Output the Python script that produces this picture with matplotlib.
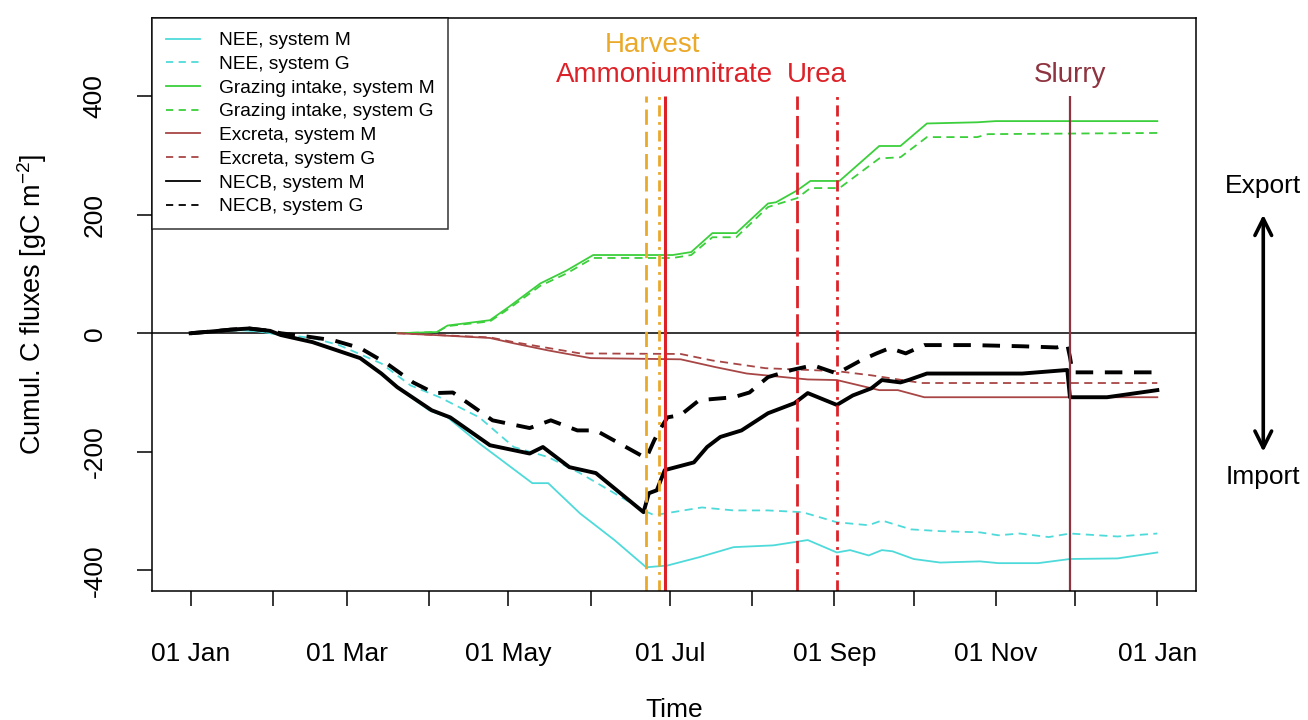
import numpy as np
import matplotlib
matplotlib.use('Agg')
import matplotlib.pyplot as plt
import matplotlib.dates as mdates
from matplotlib.lines import Line2D

plt.rcParams['font.family'] = ['Liberation Sans', 'DejaVu Sans']
plt.rcParams['axes.unicode_minus'] = False

year_start = np.datetime64('2013-01-01')

# days since 01 Jan, cumulative C fluxes [gC m-2]
nee_m_day = [0, 8, 19, 26, 34, 46, 64, 72, 78, 90, 97, 109, 129, 135, 147, 160, 172, 180,
             192, 205, 220, 233, 244, 249, 256, 261, 265, 273, 283, 298, 305, 320, 332, 350, 365]
nee_m = [0, 3, 5, 3, -3, -15, -42, -68, -91, -130, -142, -186, -253, -253, -304, -349, -395, -392,
         -378, -361, -358, -349, -370, -366, -375, -366, -368, -381, -387, -385, -388, -388, -381, -380, -370]

nee_g_day = [0, 8, 19, 26, 34, 46, 56, 72, 83, 94, 109, 122, 135, 147, 160, 171, 175, 182, 193,
             205, 218, 231, 244, 256, 261, 272, 283, 298, 305, 313, 324, 332, 350, 365]
nee_g = [0, 3, 7, 3, -2, -8, -20, -51, -88, -108, -142, -192, -209, -236, -270, -299, -307, -302, -294,
         -299, -299, -302, -319, -324, -316, -331, -334, -336, -341, -338, -344, -338, -343, -338]

graz_m_day = [78, 93, 97, 113, 120, 132, 142, 152, 182, 189, 197, 206, 218, 221, 229, 234, 245,
              260, 268, 278, 297, 304, 365]
graz_m = [0, 2, 13, 22, 44, 84, 106, 132, 132, 137, 169, 169, 219, 221, 241, 257, 257,
          316, 316, 354, 356, 358, 358]

graz_g_day = [78, 93, 97, 113, 120, 132, 142, 152, 182, 189, 197, 206, 218, 229, 234, 245,
              260, 268, 278, 297, 301, 365]
graz_g = [0, 2, 12, 20, 41, 80, 101, 127, 127, 132, 162, 162, 213, 228, 245, 245,
          295, 297, 331, 331, 336, 338]

exc_m_day = [78, 92, 113, 122, 135, 151, 185, 198, 210, 233, 244, 260, 267, 277, 365]
exc_m = [0, -3, -8, -17, -29, -42, -44, -57, -68, -78, -79, -96, -96, -108, -108]

exc_g_day = [78, 113, 122, 147, 185, 197, 217, 244, 257, 276, 365]
exc_g = [0, -7, -15, -34, -35, -46, -59, -64, -71, -84, -84]

necb_m_day = [0, 8, 15, 22, 30, 34, 46, 64, 72, 78, 91, 98, 113, 128, 133, 143, 153, 171, 173, 176,
              179, 190, 195, 200, 208, 218, 228, 233, 244, 250, 257, 261, 268, 271, 278, 298, 314,
              331, 332, 346, 365]
necb_m = [0, 3, 6, 8, 4, -3, -15, -42, -68, -91, -130, -142, -189, -203, -192, -226, -236, -302, -270, -265,
          -231, -218, -192, -175, -164, -135, -118, -101, -121, -105, -93, -79, -83, -79, -68, -68, -68,
          -62, -108, -108, -96]

necb_g_day = [0, 8, 15, 22, 30, 34, 43, 54, 64, 74, 84, 92, 99, 107, 114, 128, 136, 146, 153, 170, 172,
              175, 177, 180, 185, 192, 205, 211, 218, 227, 235, 244, 253, 259, 264, 270, 277, 295, 314,
              327, 331, 332, 333, 346, 365]
necb_g = [0, 3, 6, 8, 4, 0, -5, -12, -25, -51, -83, -101, -100, -125, -147, -160, -147, -164, -164, -206, -211,
          -181, -164, -142, -138, -113, -108, -100, -74, -62, -54, -68, -46, -34, -25, -34, -20, -20, -22,
          -24, -19, -40, -66, -66, -66]

# management events (day of year)
harvest_days = [172, 177]
an_day = 179
urea_days = [229, 244]
slurry_day = 332

c_nee = '#4fdada'
c_graz = '#3ccf3c'
c_exc = '#a84646'
c_necb = 'black'
c_harv = '#eba92a'
c_red = '#dc2228'
c_slurry = '#8e3440'


def to_x(days):
    return mdates.date2num(year_start) + np.asarray(days, dtype=float)


fig = plt.figure(figsize=(13.08, 7.2), dpi=100)
ax = fig.add_axes([152 / 1308, 1 - 591 / 720, (1196 - 152) / 1308, (591 - 18) / 720])

ax.axhline(0, color='black', lw=1.1, zorder=1)

thin = dict(lw=1.3)
ax.plot(to_x(nee_m_day), nee_m, color=c_nee, **thin)
ax.plot(to_x(nee_g_day), nee_g, color=c_nee, dashes=(4.5, 3), **thin)
ax.plot(to_x(graz_m_day), graz_m, color=c_graz, **thin)
ax.plot(to_x(graz_g_day), graz_g, color=c_graz, dashes=(4.5, 3), **thin)
ax.plot(to_x(exc_m_day), exc_m, color=c_exc, **thin)
ax.plot(to_x(exc_g_day), exc_g, color=c_exc, dashes=(4.5, 3), **thin)
ax.plot(to_x(necb_m_day), necb_m, color=c_necb, lw=2.8)
ax.plot(to_x(necb_g_day), necb_g, color=c_necb, lw=2.8, dashes=(4.5, 3))

# event lines
y_lo, y_hi = -435, 400
ax.vlines(to_x(harvest_days[0]), y_lo, y_hi, color=c_harv, lw=2, linestyles=[(0, (5.5, 2.5))])
ax.vlines(to_x(harvest_days[1]), y_lo, y_hi, color=c_harv, lw=2, linestyles=[(0, (4, 2, 1, 2))])
ax.vlines(to_x(an_day), y_lo, y_hi, color=c_red, lw=2.2)
ax.vlines(to_x(urea_days[0]), y_lo, y_hi, color=c_red, lw=2, linestyles=[(0, (8, 2.2))])
ax.vlines(to_x(urea_days[1]), y_lo, y_hi, color=c_red, lw=2, linestyles=[(0, (4, 2, 1, 2))])
ax.vlines(to_x(slurry_day), y_lo, y_hi, color=c_slurry, lw=1.6)

ax.text(to_x(np.mean(harvest_days)), 486, 'Harvest', color=c_harv, fontsize=20, ha='center', va='center')
ax.text(to_x(an_day), 435, 'Ammoniumnitrate', color=c_red, fontsize=20, ha='center', va='center')
ax.text(to_x(np.mean(urea_days)), 435, 'Urea', color=c_red, fontsize=20, ha='center', va='center')
ax.text(to_x(slurry_day), 435, 'Slurry', color=c_slurry, fontsize=20, ha='center', va='center')

# export / import arrow in the right margin
xa = to_x(405)
ax.annotate('', xy=(xa, 200), xytext=(xa, -200), annotation_clip=False,
            arrowprops=dict(arrowstyle='<->', lw=2.6, color='black', mutation_scale=30,
                            shrinkA=0, shrinkB=0))
ax.text(xa, 248, 'Export', fontsize=19, ha='center', va='center', clip_on=False)
ax.text(xa, -243, 'Import', fontsize=19, ha='center', va='center', clip_on=False)

ax.set_xlim(to_x(-14.6), to_x(379.6))
ax.set_ylim(-435, 532)
ax.xaxis.set_major_locator(mdates.MonthLocator(bymonth=[1, 3, 5, 7, 9, 11]))
ax.xaxis.set_minor_locator(mdates.MonthLocator())
ax.xaxis.set_major_formatter(mdates.DateFormatter('%d %b'))
ax.set_yticks([-400, -200, 0, 200, 400])
ax.tick_params(axis='both', which='both', direction='out', length=10.5, width=1.1, labelsize=19)
ax.tick_params(axis='x', which='both', pad=26.5)
ax.tick_params(axis='y', pad=22, labelrotation=90)
for lab in ax.get_yticklabels():
    lab.set_va('center')
for sp in ax.spines.values():
    sp.set_linewidth(1.1)

ax.set_xlabel('Time', fontsize=19)
ax.xaxis.set_label_coords(0.5, -0.187)
ax.set_ylabel('Cumul. C fluxes [gC m$^{\\mathregular{-2}}$]', fontsize=19.5)
ax.yaxis.set_label_coords(-0.099, 0.5)

handles = [
    Line2D([], [], color=c_nee, lw=1.3),
    Line2D([], [], color=c_nee, lw=1.3, dashes=(4, 3)),
    Line2D([], [], color=c_graz, lw=1.3),
    Line2D([], [], color=c_graz, lw=1.3, dashes=(4, 3)),
    Line2D([], [], color=c_exc, lw=1.3),
    Line2D([], [], color=c_exc, lw=1.3, dashes=(4, 3)),
    Line2D([], [], color=c_necb, lw=1.3),
    Line2D([], [], color=c_necb, lw=1.3, dashes=(4, 3)),
]
labels = ['NEE, system M', 'NEE, system G', 'Grazing intake, system M', 'Grazing intake, system G',
          'Excreta, system M', 'Excreta, system G', 'NECB, system M', 'NECB, system G']
leg = ax.legend(handles, labels, loc='upper left', fontsize=13.8, frameon=True, fancybox=False,
                borderaxespad=0, handlelength=1.8, handletextpad=0.95, borderpad=0.72,
                labelspacing=0.33)
leg.get_frame().set_edgecolor('black')
leg.get_frame().set_linewidth(1.1)

fig.savefig('out.png', dpi=100)
